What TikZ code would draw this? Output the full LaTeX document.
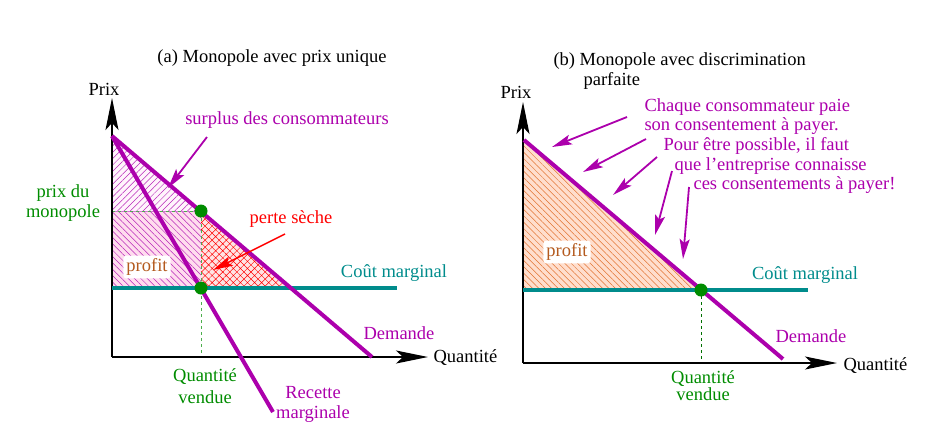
\documentclass[tikz,border=0pt]{standalone}
\usepackage{fontspec}
\setmainfont{Liberation Serif}
\usetikzlibrary{arrows.meta,patterns.meta}
\definecolor{demcol}{RGB}{172,0,172}
\definecolor{mccol}{RGB}{0,140,140}
\definecolor{qcol}{RGB}{0,140,0}
\definecolor{pscol}{RGB}{255,0,0}
\definecolor{profcol}{RGB}{180,90,30}
\definecolor{hatchcol}{RGB}{225,115,50}
\definecolor{pinkfill}{RGB}{255,220,238}
\definecolor{lightfill}{RGB}{255,244,252}
\definecolor{redfill}{RGB}{255,228,228}
\definecolor{salmonfill}{RGB}{255,222,205}
\begin{document}
\begin{tikzpicture}[x=1pt,y=-1pt,font=\fontsize{18.5}{21}\selectfont,
  axis/.style={line width=1.6pt,-{Stealth[length=32pt,width=13pt,inset=7pt]}},
  curve/.style={line width=4pt,draw=demcol},
  cmline/.style={line width=4.5pt,draw=mccol},
  dot/.style={circle,fill=qcol,inner sep=0pt,minimum size=13pt},
  note/.style={-{Stealth[length=20pt,width=10pt,inset=4pt]},line width=1.8pt,draw=demcol},
  tag/.style={fill=white,rounded corners=3pt,inner sep=3pt,text=profcol}]
\useasboundingbox (0,0) rectangle (928,424);

% (a) prix unique
\coordinate (O1) at (112,357);
\coordinate (Y1) at (112,98);
\coordinate (X1) at (428,357);
\coordinate (D1a) at (112,136);
\coordinate (D1b) at (372,357);
\coordinate (R1b) at (273,412);
\coordinate (C1a) at (112,288);
\coordinate (C1b) at (397,288);
\coordinate (P1) at (201,211);
\coordinate (Q1) at (201,288);
\coordinate (T1) at (291,288);
\coordinate (M1) at (112,211);
\coordinate (V1) at (201,357);

\fill[lightfill] (D1a) -- (M1) -- (P1) -- cycle;
\fill[pattern={Lines[angle=45,distance=4.5pt,line width=.5pt]},pattern color=demcol!85] (D1a) -- (M1) -- (P1) -- cycle;
\fill[pinkfill] (M1) rectangle (Q1);
\fill[pattern={Lines[angle=-45,distance=4.5pt,line width=.5pt]},pattern color=demcol!85] (M1) rectangle (Q1);
\draw[demcol!55,dashed,line width=.7pt] (D1a) -- (M1) -- (P1) (M1) -- (C1a) -- (Q1);
\fill[redfill] (P1) -- (Q1) -- (T1) -- cycle;
\fill[pattern={Hatch[angle=45,distance=5pt,line width=.45pt]},pattern color=pscol] (P1) -- (Q1) -- (T1) -- cycle;
\draw[qcol!70,dashed,line width=.8pt] (M1) -- (P1) -- (V1);

\draw[axis] (O1) -- (Y1);
\draw[axis] (O1) -- (X1);
\draw[cmline] (C1a) -- (C1b);
\draw[curve] (D1a) -- (D1b);
\draw[curve] (D1a) -- (R1b);
\node[dot] (pm1) at (P1) {};
\node[dot] (qm1) at (Q1) {};

\node (titA) at (272,58) {(a) Monopole avec prix unique};
\node (prixA) at (104,89) {Prix};
\node[anchor=west] (quantA) at (430,358) {Quantité};
\node[text=demcol] (surplus) at (287,120) {surplus des consommateurs};
\node[text=qcol,align=center] (prixmono) at (63,203) {prix du\\[-1pt]monopole};
\node[text=pscol] (perte) at (291,219) {perte sèche};
\node[tag] (profitA) at (147,267) {profit};
\node[text=mccol] (cmA) at (394,273) {Coût marginal};
\node[text=demcol] (demA) at (399,333) {Demande};
\node[text=qcol,align=center] (qvA) at (205,386) {Quantité\\[1pt]vendue};
\node[text=demcol,align=center] (rm) at (313,404) {Recette\\[-1pt]marginale};

\coordinate (s1) at (207,137);
\coordinate (s2) at (168,188);
\coordinate (p1) at (285,234);
\coordinate (p2) at (213,270);
\draw[note] (s1) -- (s2);
\draw[note,draw=pscol,line width=1.4pt] (p1) -- (p2);

% (b) discrimination parfaite
\coordinate (O2) at (523,363);
\coordinate (Y2) at (523,102);
\coordinate (X2) at (837,363);
\coordinate (D2a) at (524,140);
\coordinate (D2b) at (783,359);
\coordinate (C2a) at (523,290);
\coordinate (C2b) at (808,290);
\coordinate (P2) at (701,290);
\coordinate (V2) at (701,363);
\coordinate (B2) at (523,140);

\fill[salmonfill] (B2) -- (C2a) -- (P2) -- cycle;
\fill[pattern={Lines[angle=-45,distance=4.5pt,line width=.5pt]},pattern color=hatchcol] (B2) -- (C2a) -- (P2) -- cycle;
\draw[hatchcol,dashed,line width=.8pt] (B2) -- (C2a) -- (P2) -- cycle;
\draw[qcol!80!black,dashed,line width=.7pt] (P2) -- (V2);

\draw[axis] (O2) -- (Y2);
\draw[axis] (O2) -- (X2);
\draw[cmline] (C2a) -- (C2b);
\draw[curve] (D2a) -- (D2b);
\node[dot] (pm2) at (P2) {};

\node[anchor=west] (titB) at (550,61) {(b) Monopole avec discrimination};
\node[anchor=west] (titB2) at (580,81) {parfaite};
\node (prixB) at (516,92) {Prix};
\node[anchor=west] (quantB) at (840,366) {Quantité};
\node[tag] (profitB) at (567,252) {profit};
\node[text=mccol] (cmB) at (805,275) {Coût marginal};
\node[text=demcol] (demB) at (811,336) {Demande};
\node[text=qcol,align=center] (qvB) at (703,386) {Quantité\\[-4pt]vendue};

\node[anchor=west,text=demcol] (n1) at (641,107) {Chaque consommateur paie};
\node[anchor=west,text=demcol] (n2) at (641,126) {son consentement à payer.};
\node[anchor=west,text=demcol] (n3) at (660,146) {Pour être possible, il faut};
\node[anchor=west,text=demcol] (n4) at (671,166) {que l’entreprise connaisse};
\node[anchor=west,text=demcol] (n5) at (690,185) {ces consentements à payer!};

\coordinate (a1) at (627,117);
\coordinate (a2) at (552,147);
\coordinate (b1) at (646,139);
\coordinate (b2) at (583,172);
\coordinate (c1) at (657,157);
\coordinate (c2) at (613,195);
\coordinate (d1) at (672,171);
\coordinate (d2) at (655,235);
\coordinate (e1) at (689,187);
\coordinate (e2) at (683,259);
\draw[note] (a1) -- (a2);
\draw[note] (b1) -- (b2);
\draw[note] (c1) -- (c2);
\draw[note] (d1) -- (d2);
\draw[note] (e1) -- (e2);
\end{tikzpicture}
\end{document}
